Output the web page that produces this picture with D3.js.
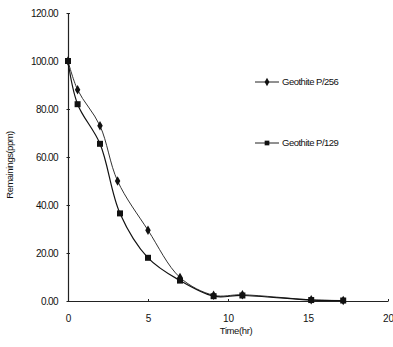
<!DOCTYPE html>
<html>
<head>
<meta charset="utf-8">
<script src="https://cdn.jsdelivr.net/npm/d3@7"></script>
<style>
  body { margin: 0; background: #fff; }
  svg { display: block; }
  text { font-family: "Liberation Sans Narrow", "Liberation Sans", Arial, sans-serif; fill: #111; }
</style>
</head>
<body>
<svg id="chart" width="393" height="347"></svg>
<script>
// data
const seriesNames = ['Geothite P/256', 'Geothite P/129']
const timeP256 = [0, 0.6, 2, 3.1, 5, 7, 9.1, 10.9, 15.2, 17.2]
const valP256 = [100, 88, 73, 50, 29.5, 9.8, 2.4, 2.6, 0.5, 0.2]
const timeP129 = [0, 0.6, 2, 3.25, 5, 7, 9.1, 10.9, 15.2, 17.2]
const valP129 = [100, 82, 65.5, 36.5, 18, 8.5, 2, 2.3, 0.4, 0.2]
const xTicks = [0, 5, 10, 15, 20]
const yTicks = [0, 20, 40, 60, 80, 100, 120]

const svg = d3.select('#chart')

const x = d3.scaleLinear().domain([0, 20]).range([68, 388])
const y = d3.scaleLinear().domain([0, 120]).range([301, 13])

// y axis, ticks sit on both sides of the line
const yAxis = d3.axisLeft(y)
  .tickValues(yTicks)
  .tickFormat(d3.format('.2f'))
  .tickSize(0)
  .tickPadding(10)
const gy = svg.append('g')
  .attr('transform', `translate(${x(0)},0)`)
  .call(yAxis)
gy.select('.domain').attr('stroke', '#222').attr('stroke-width', 1.2)
gy.selectAll('.tick')
  .append('line')
  .attr('x1', -1.5)
  .attr('x2', 2)
  .attr('stroke', '#222')
gy.selectAll('text')
  .style('font-size', '10px')
  .attr('letter-spacing', '-0.6')

// x axis
const xAxis = d3.axisBottom(x)
  .tickValues(xTicks)
  .tickSize(0)
  .tickPadding(14)
const gx = svg.append('g')
  .attr('transform', `translate(0,${y(0)})`)
  .call(xAxis)
gx.select('.domain').attr('stroke', '#222').attr('stroke-width', 1.2)
gx.selectAll('.tick')
  .append('line')
  .attr('y1', -2)
  .attr('y2', 0)
  .attr('stroke', '#222')
gx.selectAll('text').style('font-size', '10px')

// axis titles
svg.append('text')
  .attr('x', x(10.5))
  .attr('y', 334)
  .attr('text-anchor', 'middle')
  .style('font-size', '9.5px')
  .attr('letter-spacing', '-0.4')
  .text('Time(hr)')

svg.append('text')
  .attr('transform', 'translate(13,165) rotate(-90)')
  .attr('text-anchor', 'middle')
  .style('font-size', '9.5px')
  .attr('letter-spacing', '-0.5')
  .text('Remainings(ppm)')

const series = [
  { name: seriesNames[0], pts: timeP256.map((t, i) => [t, valP256[i]]), mark: 'diamond', color: '#333', w: 1 },
  { name: seriesNames[1], pts: timeP129.map((t, i) => [t, valP129[i]]), mark: 'square', color: '#111', w: 1.2 }
]

const line = d3.line()
  .x(d => x(d[0]))
  .y(d => y(d[1]))
  .curve(d3.curveCatmullRom.alpha(0.5))

const symbolFor = m => m === 'diamond'
  ? d3.symbol().type(d3.symbolDiamond).size(26)
  : d3.symbol().type(d3.symbolSquare).size(36)

series.forEach(s => {
  svg.append('path')
    .attr('d', line(s.pts))
    .attr('fill', 'none')
    .attr('stroke', s.color)
    .attr('stroke-width', s.w)

  svg.selectAll(null)
    .data(s.pts)
    .enter()
    .append('path')
    .attr('d', symbolFor(s.mark))
    .attr('transform', d => `translate(${x(d[0])},${y(d[1])})`)
    .attr('fill', '#111')
})

// legend
const legendY = [82, 143]
series.forEach((s, i) => {
  const g = svg.append('g').attr('transform', `translate(255,${legendY[i]})`)
  g.append('line')
    .attr('x1', 0)
    .attr('x2', 24)
    .attr('stroke', '#222')
    .attr('stroke-width', 1)
  g.append('path')
    .attr('d', symbolFor(s.mark).size(s.mark === 'diamond' ? 20 : 22)())
    .attr('transform', 'translate(12,0)')
    .attr('fill', '#111')
  g.append('text')
    .attr('x', 27)
    .attr('dy', '0.35em')
    .style('font-size', '9.5px')
    .attr('letter-spacing', '-0.5')
    .text(s.name)
})
</script>
</body>
</html>
